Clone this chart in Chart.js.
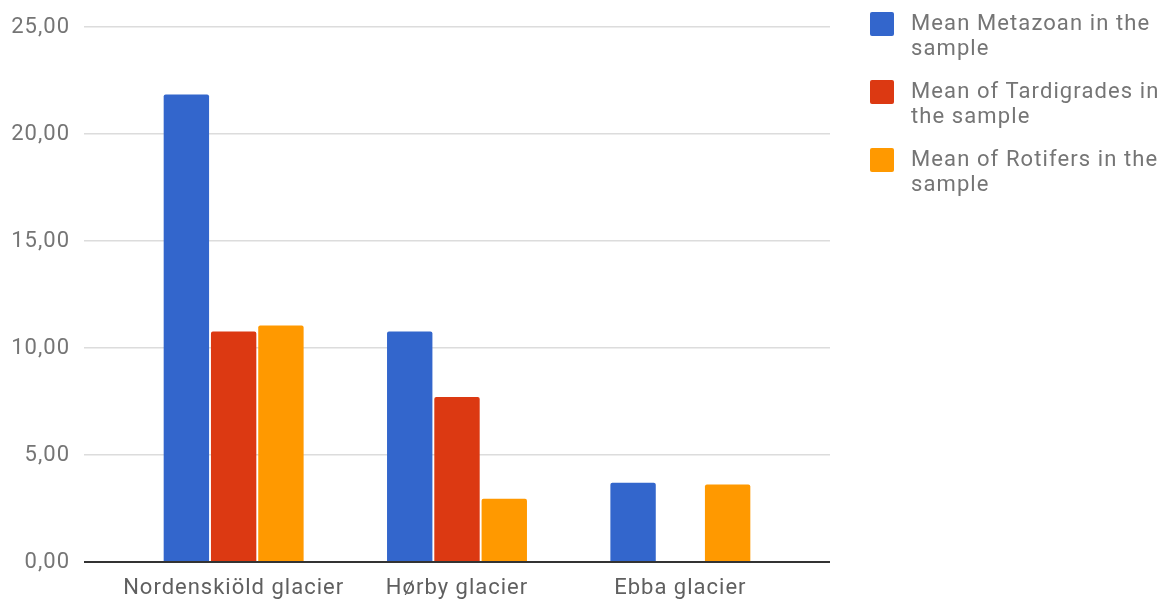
<!DOCTYPE html>
<html>
<head>
<meta charset="utf-8">
<script src="https://cdn.jsdelivr.net/npm/chart.js@4/dist/chart.umd.min.js"></script>
<style>
  body { margin: 0; background: #fff; font-family: Roboto, sans-serif; }
  #wrap { position: relative; width: 1166px; height: 599px; }
  #legend { position: absolute; left: 870px; top: 10px; width: 296px; }
  .item { display: flex; align-items: flex-start; height: 68px; }
  .box { width: 24px; height: 24px; margin-top: 2px; border-radius: 2px; flex: none; }
  .txt { margin-left: 17px; font-size: 22px; line-height: 25px; letter-spacing: 1.1px; color: #757575; }
</style>
</head>
<body>
<div id="wrap">
  <canvas id="chart" width="1166" height="599"></canvas>
  <div id="legend"></div>
</div>
<script>
const categories = ["Nordenskiöld glacier", "Hørby glacier", "Ebba glacier"];
const seriesNames = [
  "Mean Metazoan in the sample",
  "Mean of Tardigrades in the sample",
  "Mean of Rotifers in the sample"
];
const metazoan = [21.85, 10.78, 3.70];
const tardigrades = [10.78, 7.71, null];
const rotifers = [11.06, 2.96, 3.62];
const colors = ["#3366cc", "#dc3912", "#ff9900"];
const yTicks = [0, 5, 10, 15, 20, 25];

const seriesValues = [metazoan, tardigrades, rotifers];

const datasets = seriesNames.map((name, i) => ({
  label: name,
  data: seriesValues[i],
  backgroundColor: colors[i],
  borderRadius: 2,
  borderSkipped: "bottom",
  categoryPercentage: 0.635,
  barPercentage: 0.96
}));

// html legend, wraps like the original
const legend = document.getElementById("legend");
datasets.forEach((ds) => {
  const item = document.createElement("div");
  item.className = "item";
  const box = document.createElement("div");
  box.className = "box";
  box.style.background = ds.backgroundColor;
  const txt = document.createElement("div");
  txt.className = "txt";
  txt.textContent = ds.label;
  item.appendChild(box);
  item.appendChild(txt);
  legend.appendChild(item);
});

// the original text is a bit wider than Roboto
const spacing = {
  id: "spacing",
  beforeDraw: (chart) => { chart.ctx.letterSpacing = "1px"; }
};

const ctx = document.getElementById("chart");

new Chart(ctx, {
  type: "bar",
  data: { labels: categories, datasets: datasets },
  plugins: [spacing],
  options: {
    responsive: false,
    animation: false,
    layout: { padding: { top: 24, right: 336, left: 0, bottom: 0 } },
    plugins: { legend: { display: false }, tooltip: { enabled: false } },
    scales: {
      x: {
        grid: { display: false },
        border: { display: false },
        ticks: { color: "#5f5f5f", font: { family: "Roboto", size: 22 }, padding: 5 },
        afterFit: (s) => { s.height = 37; },
        // leave some room on both sides of the groups, as in the original
        afterBuildTicks: (s) => { s._startValue -= 0.17; s._valueRange += 0.34; }
      },
      y: {
        min: 0,
        max: 25,
        afterBuildTicks: (s) => { s.ticks = yTicks.map((v) => ({ value: v })); },
        afterFit: (s) => { s.width = 84; },
        border: { display: false },
        grid: {
          drawTicks: false,
          lineWidth: (c) => (c.tick && c.tick.value === 0 ? 2 : 1.5),
          color: (c) => (c.tick && c.tick.value === 0 ? "#333333" : "#dcdcdc")
        },
        ticks: {
          color: "#757575",
          padding: 14,
          font: { family: "Roboto", size: 22 },
          callback: (v) => v.toFixed(2).replace(".", ",")
        }
      }
    }
  }
});
</script>
</body>
</html>
